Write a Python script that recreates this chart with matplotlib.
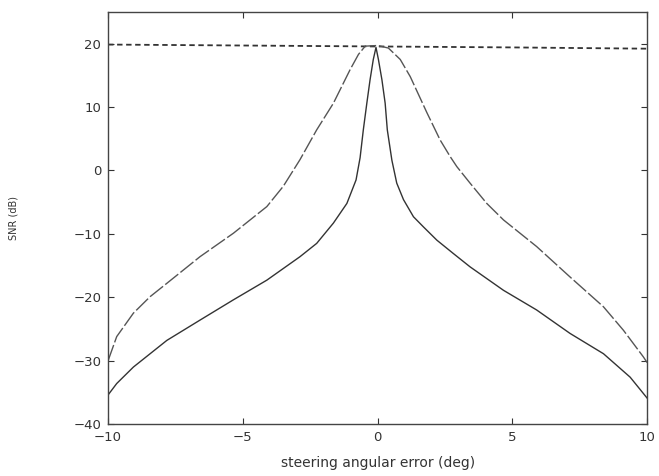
# SNR versus steering angular error, three beamformers
import numpy as np
import matplotlib.pyplot as plt

# dashed, nearly flat curve near 20 dB
flat_x = [-10, -5, 0, 5, 10]
flat_y = [19.85, 19.7, 19.55, 19.4, 19.2]

# outer (long dashed) curve
outer_x = [-10, -9.68, -9.06, -8.44, -7.82, -6.59, -5.35, -4.11, -3.5, -2.88, -2.26,
           -1.64, -1.02, -0.71, -0.46, 0.0, 0.4, 0.84, 1.21, 1.83, 2.32, 2.69, 2.94,
           3.43, 4.05, 4.67, 5.9, 7.14, 8.38, 9.12, 9.86, 10]
outer_y = [-30.0, -26.2, -22.5, -19.9, -17.8, -13.6, -9.9, -5.7, -2.5, 1.7, 6.4,
           10.6, 15.9, 18.3, 19.6, 19.7, 19.3, 17.5, 14.8, 9.1, 4.8, 2.2, 0.6,
           -2.0, -5.2, -7.8, -12.0, -16.8, -21.5, -25.2, -29.4, -30.3]

# inner (solid) curve
inner_x = [-10, -9.68, -9.06, -8.44, -7.82, -6.59, -5.35, -4.11, -2.88, -2.26, -1.64,
           -1.14, -0.8, -0.65, -0.53, -0.4, -0.28, -0.16, -0.06, 0.03, 0.16, 0.28,
           0.36, 0.53, 0.71, 0.96, 1.33, 1.7, 2.2, 2.81, 3.43, 4.67, 5.9, 7.14, 8.38,
           9.37, 10]
inner_y = [-35.4, -33.6, -31.0, -28.9, -26.8, -23.6, -20.4, -17.3, -13.6, -11.5, -8.3,
           -5.2, -1.5, 2.0, 6.4, 10.6, 14.3, 17.5, 19.4, 17.5, 14.3, 10.6,
           6.4, 1.6, -2.0, -4.6, -7.3, -8.9, -11.0, -13.1, -15.2, -18.9, -22.0, -25.7, -28.9,
           -32.6, -35.9]

fig = plt.figure(figsize=(6.59, 4.76), dpi=100)
ax = fig.add_axes([0.164, 0.109, 0.818, 0.866])

ax.plot(flat_x, flat_y, color="#333333", lw=1.3, linestyle=(0, (3, 2)))
ax.plot(outer_x, outer_y, color="#555555", lw=1.0, linestyle=(0, (12, 2)))
ax.plot(inner_x, inner_y, color="#333333", lw=1.0)

ax.set_xlim(-10, 10)
ax.set_ylim(-40, 25)
ax.set_xticks([-10, -5, 0, 5, 10])
ax.set_yticks([-40, -30, -20, -10, 0, 10, 20])
ax.tick_params(direction="in", top=True, right=True, length=4, labelsize=9.5,
               colors="#333333", pad=5)
for s in ax.spines.values():
    s.set_color("#444444")
    s.set_linewidth(1.0)

ax.set_xlabel("steering angular error (deg)", fontsize=10, color="#333333", va="top")
ax.xaxis.set_label_coords(0.5, -0.078)
ax.set_ylabel("SNR (dB)", fontsize=7, color="#333333")
ax.yaxis.set_label_coords(-0.167, 0.5)

fig.savefig("out.png", dpi=100)
